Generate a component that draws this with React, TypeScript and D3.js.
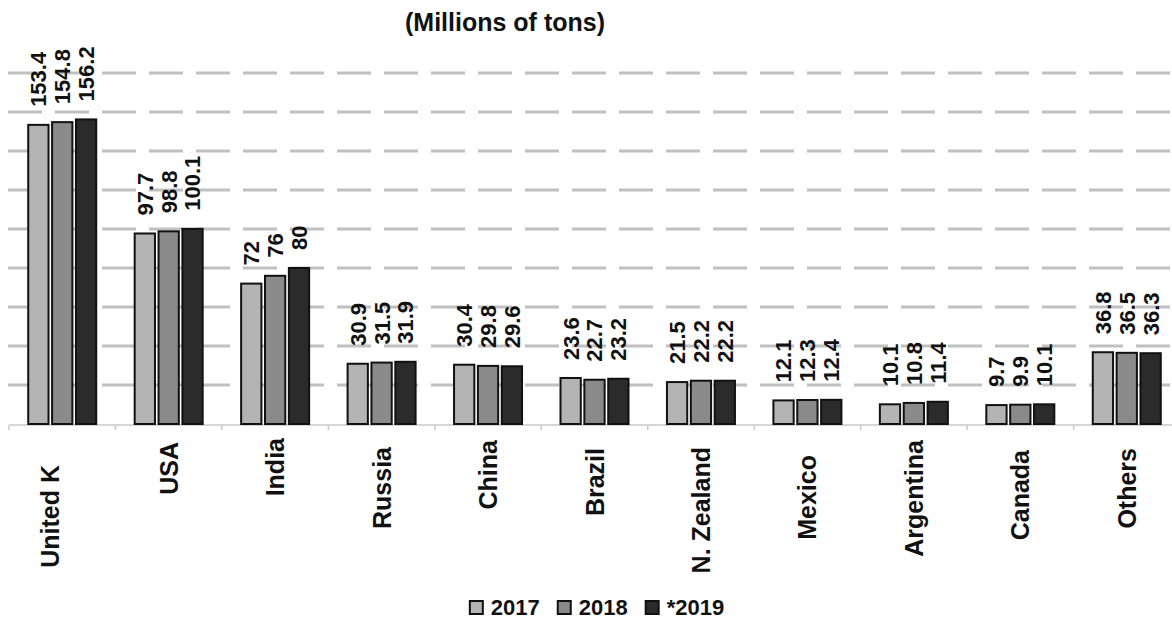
import React from "react";
import * as d3 from "d3";

// Production by country, millions of tons
const categories = [
  "United K",
  "USA",
  "India",
  "Russia",
  "China",
  "Brazil",
  "N. Zealand",
  "Mexico",
  "Argentina",
  "Canada",
  "Others",
];
const values2017 = [153.4, 97.7, 72, 30.9, 30.4, 23.6, 21.5, 12.1, 10.1, 9.7, 36.8];
const values2018 = [154.8, 98.8, 76, 31.5, 29.8, 22.7, 22.2, 12.3, 10.8, 9.9, 36.5];
const values2019 = [156.2, 100.1, 80, 31.9, 29.6, 23.2, 22.2, 12.4, 11.4, 10.1, 36.3];
const seriesNames = ["2017", "2018", "*2019"];
const seriesColors = ["#b4b4b4", "#8a8a8a", "#2b2b2b"];
const title = "(Millions of tons)";

// Layout
const W = 1172;
const H = 619;
const FONT = "'Liberation Sans', Arial, Helvetica, sans-serif";
const plotLeft = 9;
const plotRight = 1180;
const baseY = 424;
const topY = 34;
// Top edge of each rotated category label, and small horizontal nudges
const catLabelTop = [465, 442, 438, 447, 440, 448, 447, 455, 440, 450, 448];
const catLabelDx = [-12, 0, 0, 0, 0, 0, 0, 0, 0, 0, 0];

export default function App() {
  const series = [values2017, values2018, values2019];

  const x = d3.scaleBand<string>().domain(categories).range([plotLeft, plotRight]).padding(0);
  const groupW = 68;
  const xInner = d3
    .scaleBand<string>()
    .domain(seriesNames)
    .range([0, groupW])
    .paddingInner(0.15);
  const y = d3.scaleLinear().domain([0, 200]).range([baseY, topY]);
  const gridTicks = y.ticks(10).filter((t) => t > 0 && t < 200);

  const groupStart = (c: string) => (x(c) as number) + x.bandwidth() / 2 - groupW / 2;

  // Legend layout
  const legFs = 22;
  const sq = 13;
  const charW = (s: string) =>
    s.split("").reduce((a, ch) => a + (ch === "*" ? 0.389 : 0.556), 0) * legFs;
  const itemW = seriesNames.map((s) => sq + 8 + charW(s));
  const legGap = 18;
  const legTotal = d3.sum(itemW) + legGap * (seriesNames.length - 1);
  const legStart = 597 - legTotal / 2;
  const legX: number[] = [];
  let acc = legStart;
  itemW.forEach((w) => {
    legX.push(acc);
    acc += w + legGap;
  });

  return (
    <svg
      width={W}
      height={H}
      viewBox={`0 0 ${W} ${H}`}
      style={{ position: "absolute", left: 0, top: 0, background: "#fff" }}
      fontFamily={FONT}
    >
      <rect x={0} y={0} width={W} height={H} fill="#fff" />

      {/* title */}
      <text x={505} y={31} textAnchor="middle" fontSize={25} fontWeight="bold" fill="#111">
        {title}
      </text>

      {/* dashed gridlines */}
      {gridTicks.map((t) => (
        <line
          key={t}
          x1={8}
          x2={W}
          y1={y(t)}
          y2={y(t)}
          stroke="#c0c0c0"
          strokeWidth={3}
          strokeDasharray="34 13"
        />
      ))}

      {/* category axis */}
      <line x1={plotLeft} x2={W} y1={baseY + 1} y2={baseY + 1} stroke="#c8c8c8" strokeWidth={1.5} />
      {categories.map((c, i) => (
        <line
          key={"tk" + c}
          x1={(x(c) as number) + (i === 0 ? 0 : 0)}
          x2={x(c) as number}
          y1={baseY + 1}
          y2={baseY + 6}
          stroke="#c8c8c8"
          strokeWidth={1.5}
        />
      ))}

      {/* bars */}
      {categories.map((c, i) => (
        <g key={"g" + c} transform={`translate(${groupStart(c)},0)`}>
          {series.map((vals, s) => {
            const bx = xInner(seriesNames[s]) as number;
            const v = vals[i];
            return (
              <rect
                key={s}
                x={bx}
                y={y(v)}
                width={xInner.bandwidth()}
                height={baseY - y(v)}
                fill={seriesColors[s]}
                stroke="#111"
                strokeWidth={2}
              />
            );
          })}
        </g>
      ))}

      {/* value labels */}
      {categories.map((c, i) =>
        series.map((vals, s) => {
          const cx = groupStart(c) + (xInner(seriesNames[s]) as number) + xInner.bandwidth() / 2;
          const ty = y(vals[i]) - 18;
          return (
            <text
              key={c + s}
              transform={`translate(${cx},${ty}) rotate(-90)`}
              dy="0.36em"
              textAnchor="start"
              fontSize={22}
              fontWeight="bold"
              fill="#111"
            >
              {String(vals[i])}
            </text>
          );
        })
      )}

      {/* category labels */}
      {categories.map((c, i) => {
        const cx = (x(c) as number) + x.bandwidth() / 2 + catLabelDx[i];
        return (
          <text
            key={"l" + c}
            transform={`translate(${cx},${catLabelTop[i]}) rotate(-90)`}
            dy="0.36em"
            textAnchor="end"
            fontSize={25}
            fontWeight="bold"
            fill="#111"
          >
            {c}
          </text>
        );
      })}

      {/* legend */}
      {seriesNames.map((s, k) => (
        <g key={"leg" + s} transform={`translate(${legX[k]},0)`}>
          <rect x={0} y={601} width={sq} height={sq} fill={seriesColors[k]} stroke="#111" strokeWidth={2} />
          <text x={sq + 8} y={615} fontSize={legFs} fontWeight="bold" fill="#111">
            {s}
          </text>
        </g>
      ))}
    </svg>
  );
}
